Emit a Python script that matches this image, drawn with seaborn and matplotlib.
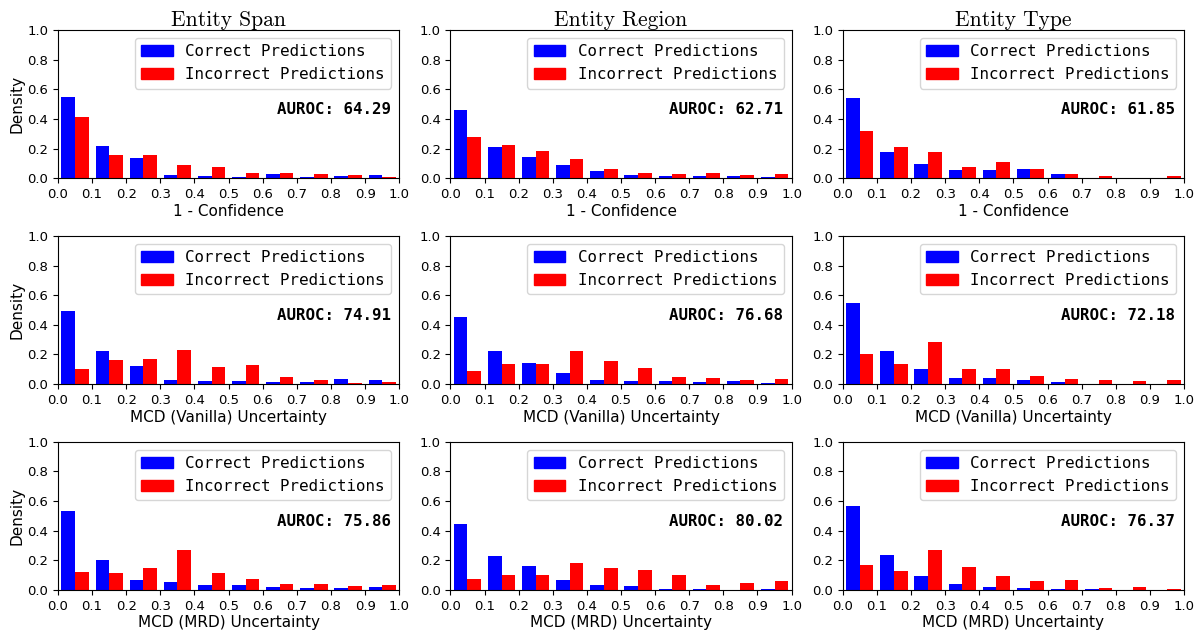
import numpy as np
import pandas as pd
import seaborn as sns
import matplotlib.pyplot as plt
from matplotlib.patches import Patch


# Histogram values (density per bin)

bin_edges = np.linspace(0, 1, 11)
bin_centers = (bin_edges[:-1] + bin_edges[1:]) / 2

entities = ["Entity Span", "Entity Region", "Entity Type"]
methods = ["1 - Confidence", "MCD (Vanilla) Uncertainty", "MCD (MRD) Uncertainty"]

# 1 - Confidence
conf_span_correct = [0.546, 0.214, 0.133, 0.020, 0.013, 0.007, 0.025, 0.007, 0.013, 0.020]
conf_span_incorrect = [0.413, 0.156, 0.156, 0.088, 0.074, 0.034, 0.034, 0.027, 0.020, 0.007]
conf_region_correct = [0.458, 0.208, 0.140, 0.088, 0.045, 0.020, 0.013, 0.013, 0.013, 0.007]
conf_region_incorrect = [0.278, 0.221, 0.181, 0.126, 0.059, 0.034, 0.027, 0.034, 0.020, 0.027]
conf_type_correct = [0.540, 0.174, 0.093, 0.052, 0.052, 0.059, 0.027, 0.002, 0.004, 0.004]
conf_type_incorrect = [0.316, 0.208, 0.174, 0.072, 0.106, 0.065, 0.027, 0.013, 0.004, 0.013]

# MCD (Vanilla)
van_span_correct = [0.494, 0.221, 0.122, 0.025, 0.020, 0.020, 0.011, 0.011, 0.032, 0.025]
van_span_incorrect = [0.099, 0.160, 0.169, 0.230, 0.115, 0.129, 0.047, 0.025, 0.005, 0.011]
van_region_correct = [0.451, 0.221, 0.142, 0.072, 0.025, 0.020, 0.020, 0.011, 0.020, 0.005]
van_region_incorrect = [0.086, 0.133, 0.133, 0.221, 0.153, 0.108, 0.047, 0.038, 0.025, 0.032]
van_type_correct = [0.549, 0.221, 0.099, 0.038, 0.038, 0.025, 0.011, 0.002, 0.002, 0.002]
van_type_incorrect = [0.201, 0.133, 0.282, 0.099, 0.099, 0.052, 0.032, 0.025, 0.020, 0.025]

# MCD (MRD)
mrd_span_correct = [0.535, 0.203, 0.068, 0.054, 0.034, 0.034, 0.020, 0.014, 0.014, 0.020]
mrd_span_incorrect = [0.122, 0.115, 0.149, 0.271, 0.115, 0.074, 0.041, 0.041, 0.027, 0.034]
mrd_region_correct = [0.447, 0.230, 0.163, 0.068, 0.034, 0.027, 0.007, 0.007, 0.002, 0.007]
mrd_region_incorrect = [0.074, 0.102, 0.102, 0.183, 0.149, 0.135, 0.102, 0.034, 0.047, 0.061]
mrd_type_correct = [0.569, 0.237, 0.095, 0.041, 0.020, 0.014, 0.007, 0.007, 0.002, 0.002]
mrd_type_incorrect = [0.169, 0.129, 0.271, 0.156, 0.095, 0.061, 0.068, 0.014, 0.020, 0.007]

auroc = [
    [64.29, 62.71, 61.85],
    [74.91, 76.68, 72.18],
    [75.86, 80.02, 76.37],
]

panels = [
    [(conf_span_correct, conf_span_incorrect),
     (conf_region_correct, conf_region_incorrect),
     (conf_type_correct, conf_type_incorrect)],
    [(van_span_correct, van_span_incorrect),
     (van_region_correct, van_region_incorrect),
     (van_type_correct, van_type_incorrect)],
    [(mrd_span_correct, mrd_span_incorrect),
     (mrd_region_correct, mrd_region_incorrect),
     (mrd_type_correct, mrd_type_incorrect)],
]

labels = ["Correct Predictions", "Incorrect Predictions"]
colors = {"Correct Predictions": "blue", "Incorrect Predictions": "red"}


# Plot

fig, axes = plt.subplots(3, 3, figsize=(12.03, 6.33), dpi=100)
fig.subplots_adjust(left=58 / 1203, right=1184 / 1203, top=1 - 30 / 633,
                    bottom=1 - 590 / 633, wspace=0.15, hspace=0.39)

for r in range(3):
    for c in range(3):
        ax = axes[r, c]
        correct, incorrect = panels[r][c]
        df = pd.DataFrame({
            "x": np.concatenate([bin_centers, bin_centers]),
            "density": correct + incorrect,
            "group": [labels[0]] * 10 + [labels[1]] * 10,
        })
        sns.histplot(data=df, x="x", weights="density", hue="group",
                     hue_order=labels, palette=colors, bins=bin_edges.tolist(),
                     multiple="dodge", shrink=0.8, alpha=1, linewidth=0,
                     legend=False, ax=ax)

        ax.set_xlim(0, 1)
        ax.set_ylim(0, 1)
        ax.set_xticks(np.arange(0, 1.01, 0.1))
        ax.set_yticks(np.arange(0, 1.01, 0.2))
        ax.tick_params(labelsize=9.5)
        ax.set_xlabel(methods[r], fontsize=11, labelpad=2)
        if c == 0:
            ax.set_ylabel("Density", fontsize=11, labelpad=2)
        else:
            ax.set_ylabel("")
        if r == 0:
            ax.set_title(entities[c], family="cmr10", fontsize=15.5, pad=3)

        handles = [Patch(color=colors[l], label=l) for l in labels]
        ax.legend(handles=handles, loc="upper right",
                  prop={"family": "DejaVu Sans Mono", "size": 11.4})
        ax.text(0.975, 0.46, f"AUROC: {auroc[r][c]:.2f}", transform=ax.transAxes,
                ha="right", va="center", family="DejaVu Sans Mono",
                weight="bold", fontsize=11.3)

plt.savefig("out.png", dpi=100)
